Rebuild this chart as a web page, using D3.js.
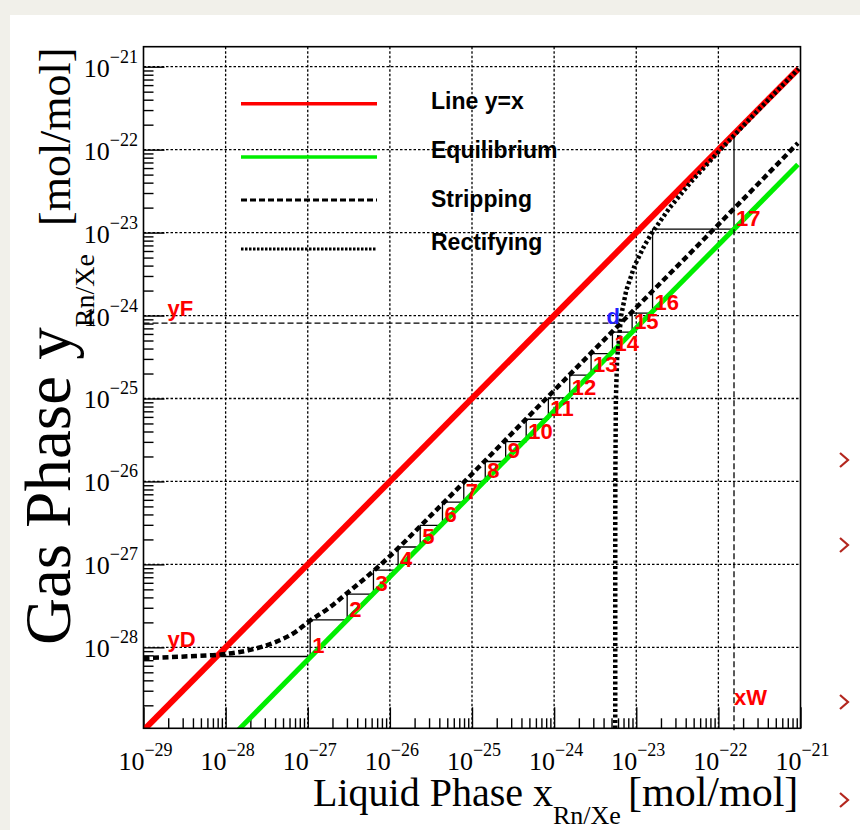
<!DOCTYPE html>
<html>
<head>
<meta charset="utf-8">
<script src="https://cdn.jsdelivr.net/npm/d3@7"></script>
<style>
  body { margin: 0; background: #ffffff; }
  svg { display: block; }
</style>
</head>
<body>
<svg id="chart" width="860" height="830"></svg>
<script>
// ---------------- data ----------------
const xTickExp = [-29, -28, -27, -26, -25, -24, -23, -22, -21];
const yTickExp = [-28, -27, -26, -25, -24, -23, -22, -21];

// Line y = x
const diagX = [1e-29, 9.5e-22];
const diagY = [1e-29, 9.5e-22];

// Equilibrium line
const eqX = [1.4e-28, 9.3e-22];
const eqY = [9.9e-30, 6.6e-23];

// Stripping operating line (dashed)
const stripX = [1e-29, 3.16e-29, 1e-28, 2e-28, 3.98e-28, 7.41e-28, 1e-27, 1.78e-27, 3.16e-27, 6.31e-27, 1e-26, 3.16e-26, 1e-25, 1e-24, 1e-23, 1e-22, 9.3e-22];
const stripY = [7.41e-29, 7.76e-29, 8.32e-29, 9.33e-29, 1.15e-28, 1.58e-28, 2.0e-28, 2.95e-28, 4.68e-28, 8.32e-28, 1.26e-27, 3.89e-27, 1.23e-26, 1.25e-25, 1.25e-24, 1.25e-23, 1.2e-22];

// Rectifying operating line (dotted)
const rectX = [5.55e-24, 5.55e-24, 5.56e-24, 5.65e-24, 5.85e-24, 6.55e-24, 7.55e-24, 9.55e-24, 1.26e-23, 1.56e-23, 2.56e-23, 4.56e-23, 1.06e-22, 3.06e-22, 9.5e-22];
const rectY = [9.0e-30, 1e-27, 1e-26, 1e-25, 3e-25, 1e-24, 2e-24, 4e-24, 7e-24, 1e-23, 2e-23, 4e-23, 1e-22, 3e-22, 9.45e-22];

// Stage construction (staircase)
const stepStart = 7.76e-29;
const stepX = [1.07e-27, 3.02e-27, 6.31e-27, 1.26e-26, 2.34e-26, 4.37e-26, 7.94e-26, 1.45e-25, 2.57e-25, 4.57e-25, 8.51e-25, 1.55e-24, 2.82e-24, 5.13e-24, 8.91e-24, 1.58e-23, 1.55e-22];
const stepY = [2.14e-28, 4.37e-28, 8.51e-28, 1.62e-27, 2.95e-27, 5.62e-27, 1.0e-26, 1.74e-26, 3.02e-26, 5.62e-26, 1.02e-25, 1.91e-25, 3.47e-25, 6.31e-25, 1.07e-24, 1.10e-23, 1.51e-22];
const stepLabels = ["1","2","3","4","5","6","7","8","9","10","11","12","13","14","15","16","17"];

// Feed / bottoms markers
const yFValue = 8.1e-25;
const dPointX = 6.0e-24;
const xWValue = 1.55e-22;
const xWTopY = 1.10e-23;

const legendLabels = ["Line y=x", "Equilibrium", "Stripping", "Rectifying"];

// ---------------- layout ----------------
const svg = d3.select("#chart");
const L = 143.5, R = 800.5, T = 46.7, B = 728.3;

const x = d3.scaleLog().domain([1e-29, 1e-21]).range([L, R]);
const y = d3.scaleLog().domain([Math.pow(10, -28.976), Math.pow(10, -20.759)]).range([B, T]);

const serif = "'Liberation Serif', 'Times New Roman', serif";
const sans = "'Liberation Sans', Arial, sans-serif";

// page background like the slide
svg.append("rect").attr("x", 0).attr("y", 0).attr("width", 860).attr("height", 830).attr("fill", "#f1f0ea");
svg.append("rect").attr("x", 10).attr("y", 15).attr("width", 850).attr("height", 815).attr("fill", "#ffffff");

svg.append("defs").append("clipPath").attr("id", "plotclip")
  .append("rect").attr("x", L).attr("y", T).attr("width", R - L).attr("height", B - T);

// grid
const grid = svg.append("g");
xTickExp.slice(1, -1).forEach(e => {
  grid.append("line").attr("x1", x(Math.pow(10, e))).attr("x2", x(Math.pow(10, e)))
    .attr("y1", T).attr("y2", B)
    .attr("stroke", "#000").attr("stroke-width", 1.3).attr("stroke-dasharray", "2.5,2");
});
yTickExp.forEach(e => {
  grid.append("line").attr("y1", y(Math.pow(10, e))).attr("y2", y(Math.pow(10, e)))
    .attr("x1", L).attr("x2", R)
    .attr("stroke", "#000").attr("stroke-width", 1.3).attr("stroke-dasharray", "2.5,2");
});

// minor tick values
const minorX = [], minorY = [];
for (let e = -29; e < -21; e++) for (let m = 2; m <= 9; m++) minorX.push(m * Math.pow(10, e));
for (let e = -29; e < -20; e++) for (let m = 2; m <= 9; m++) {
  const v = m * Math.pow(10, e);
  if (v >= y.domain()[0] && v <= y.domain()[1]) minorY.push(v);
}

// axes (ticks inside)
const xMajor = d3.axisBottom(x).tickValues(xTickExp.map(e => Math.pow(10, e))).tickSizeInner(-21).tickSizeOuter(0).tickFormat(() => "");
const xMinor = d3.axisBottom(x).tickValues(minorX).tickSizeInner(-10).tickSizeOuter(0).tickFormat(() => "");
const yMajor = d3.axisLeft(y).tickValues(yTickExp.map(e => Math.pow(10, e))).tickSizeInner(-21).tickSizeOuter(0).tickFormat(() => "");
const yMinor = d3.axisLeft(y).tickValues(minorY).tickSizeInner(-10).tickSizeOuter(0).tickFormat(() => "");

function styleAxis(g) {
  g.select(".domain").remove();
  g.selectAll(".tick line").attr("stroke", "#000").attr("stroke-width", 1.4);
}
svg.append("g").attr("transform", `translate(0,${B})`).call(xMajor).call(styleAxis);
svg.append("g").attr("transform", `translate(0,${B})`).call(xMinor).call(styleAxis);
svg.append("g").attr("transform", `translate(${L},0)`).call(yMajor).call(styleAxis);
svg.append("g").attr("transform", `translate(${L},0)`).call(yMinor).call(styleAxis);

// tick labels
const xl = svg.append("g").attr("font-family", serif).attr("fill", "#000");
xTickExp.forEach(e => {
  const t = xl.append("text").attr("x", x(Math.pow(10, e)) + 2).attr("y", B + 42)
    .attr("text-anchor", "middle").attr("font-size", 26);
  t.append("tspan").text("10");
  t.append("tspan").attr("dy", -14).attr("font-size", 18).text("\u2212" + Math.abs(e));
});
yTickExp.forEach(e => {
  const t = xl.append("text").attr("x", 138).attr("y", y(Math.pow(10, e)) + 10)
    .attr("text-anchor", "end").attr("font-size", 26);
  t.append("tspan").text("10");
  t.append("tspan").attr("dy", -14).attr("font-size", 18).text("\u2212" + Math.abs(e));
});

// plot content
const plot = svg.append("g").attr("clip-path", "url(#plotclip)");
const lineGen = d3.line().x(d => x(d[0])).y(d => y(d[1]));
const smooth = d3.line().x(d => x(d[0])).y(d => y(d[1])).curve(d3.curveMonotoneX);

// yF dashed line
plot.append("line").attr("x1", L).attr("x2", x(dPointX))
  .attr("y1", y(yFValue)).attr("y2", y(yFValue))
  .attr("stroke", "#000").attr("stroke-width", 1.3).attr("stroke-dasharray", "6,3");

// staircase
const stairs = [[stepStart, stepStart]];
let prevY = stepStart;
stepX.forEach((sx, i) => {
  stairs.push([sx, prevY]);
  stairs.push([sx, stepY[i]]);
  prevY = stepY[i];
});
plot.append("path").attr("d", lineGen(stairs)).attr("fill", "none")
  .attr("stroke", "#000").attr("stroke-width", 1.3);

// equilibrium
plot.append("path").attr("d", lineGen(eqX.map((v, i) => [v, eqY[i]])))
  .attr("fill", "none").attr("stroke", "#00ee00").attr("stroke-width", 5);

// y = x
plot.append("path").attr("d", lineGen(diagX.map((v, i) => [v, diagY[i]])))
  .attr("fill", "none").attr("stroke", "#ff0000").attr("stroke-width", 6);

// stripping
plot.append("path").attr("d", smooth(stripX.map((v, i) => [v, stripY[i]])))
  .attr("fill", "none").attr("stroke", "#000").attr("stroke-width", 4.5).attr("stroke-dasharray", "6,3.5");

// rectifying
plot.append("path").attr("d", lineGen(rectX.map((v, i) => [v, rectY[i]])))
  .attr("fill", "none").attr("stroke", "#000").attr("stroke-width", 4.5).attr("stroke-dasharray", "3,2.5");

// xW dashed vertical (extends slightly below frame)
svg.append("line").attr("x1", x(xWValue)).attr("x2", x(xWValue))
  .attr("y1", y(xWTopY)).attr("y2", B + 4)
  .attr("stroke", "#000").attr("stroke-width", 1.3).attr("stroke-dasharray", "6,3");

// stage labels
const lab = svg.append("g").attr("font-family", sans).attr("font-weight", "bold").attr("font-size", 22).attr("fill", "#ff0000");
stepLabels.forEach((s, i) => {
  const baseY = i === 0 ? stepStart : stepY[i - 1];
  lab.append("text").attr("x", x(stepX[i]) + 2).attr("y", y(baseY) - 3).text(s);
});
lab.append("text").attr("x", L + 24).attr("y", y(yFValue) - 7).text("yF");
lab.append("text").attr("x", L + 24).attr("y", y(stepStart) - 9).text("yD");
lab.append("text").attr("x", x(xWValue)).attr("y", B - 23).text("xW");
lab.append("text").attr("x", x(dPointX) + 2).attr("y", y(yFValue) + 1).attr("text-anchor", "end")
  .attr("fill", "#2020ff").text("d");

// frame
svg.append("rect").attr("x", L).attr("y", T).attr("width", R - L).attr("height", B - T)
  .attr("fill", "none").attr("stroke", "#000").attr("stroke-width", 1.6);

// legend
const leg = svg.append("g");
const legY = [103.7, 157, 200, 249];
const legTextY = [109, 158, 207, 250];
const legStyles = [
  { stroke: "#ff0000", w: 3.5, dash: null },
  { stroke: "#00ee00", w: 3.5, dash: null },
  { stroke: "#000", w: 3, dash: "6,3" },
  { stroke: "#000", w: 3, dash: "2.5,1.5" }
];
legendLabels.forEach((t, i) => {
  const s = legStyles[i];
  const ln = leg.append("line").attr("x1", 241).attr("x2", 377).attr("y1", legY[i]).attr("y2", legY[i])
    .attr("stroke", s.stroke).attr("stroke-width", s.w);
  if (s.dash) ln.attr("stroke-dasharray", s.dash);
  leg.append("text").attr("x", 431).attr("y", legTextY[i]).attr("font-family", sans)
    .attr("font-weight", "bold").attr("font-size", 23).attr("fill", "#000").text(t);
});

// axis titles
const xt = svg.append("text").attr("x", 313).attr("y", 806).attr("font-family", serif)
  .attr("font-size", 40).attr("fill", "#000");
xt.append("tspan").text("Liquid Phase x");
xt.append("tspan").attr("dy", 18).attr("font-size", 26).text("Rn/Xe");
xt.append("tspan").attr("x", 628).attr("dy", -18).attr("font-size", 42).text("[mol/mol]");

const yt = svg.append("text").attr("transform", "translate(70,645) rotate(-90)")
  .attr("font-family", serif).attr("font-size", 65).attr("fill", "#000");
yt.append("tspan").text("Gas Phase y");
yt.append("tspan").attr("dy", 24).attr("font-size", 28).text("Rn/Xe");
yt.append("tspan").attr("x", 419).attr("dy", -24).attr("font-size", 44).text("[mol/mol]");

// slide bullets at right edge
const bullets = svg.append("g").attr("fill", "none").attr("stroke", "#b3261e").attr("stroke-width", 2.2);
[460, 545, 702, 800].forEach(by => bullets.append("path").attr("d", `M840,${by - 7} L848,${by} L840,${by + 7}`));
</script>
</body>
</html>
